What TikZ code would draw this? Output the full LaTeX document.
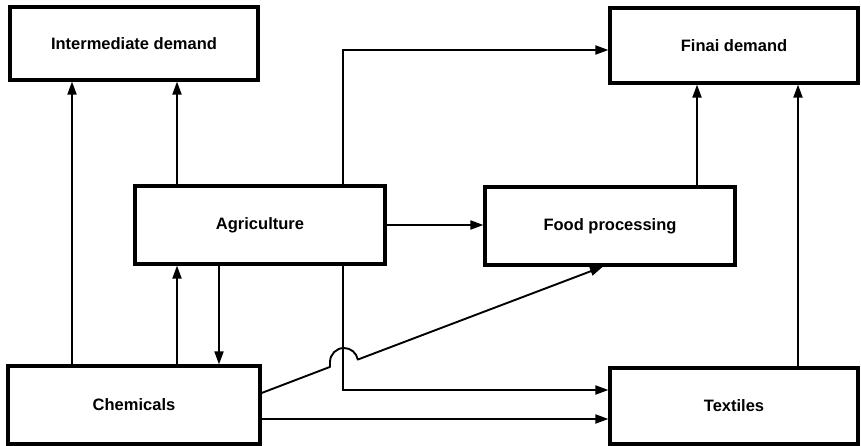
\documentclass[tikz,border=0pt]{standalone}
\usepackage{fontspec}
\setmainfont{Liberation Sans}
\usetikzlibrary{arrows.meta}
\begin{document}
\begin{tikzpicture}[x=1pt,y=-1pt,
  sector/.style={draw, line width=3.2pt, minimum width=248pt, minimum height=76pt,
    inner sep=0pt, font=\fontsize{16.5}{19}\selectfont\bfseries},
  flow/.style={line width=1.9pt, -{Triangle[length=13pt,width=9pt]}}]
\useasboundingbox (0,0) rectangle (861,446);

% sectors
\node[sector, minimum height=73pt] (id)   at (134,43.5) {Intermediate demand};
\node[sector, minimum height=75pt] (fd)   at (734,45.5) {Finai demand};
\node[sector, minimum width=250pt, minimum height=78pt] (agri) at (260,225) {Agriculture};
\node[sector, minimum width=250pt, minimum height=78pt] (fp)   at (610,226) {Food processing};
\node[sector, minimum width=252pt, minimum height=78pt] (chem) at (134,405) {Chemicals};
\node[sector] (tex)  at (734,406) {Textiles};

% guide positions for the connectors
\coordinate (gx72)  at (72,0);
\coordinate (gx177) at (177,0);
\coordinate (gx219) at (219,0);
\coordinate (gx343) at (343,0);
\coordinate (gx603) at (603,0);
\coordinate (gx697) at (697,0);
\coordinate (gx798) at (798,0);
\coordinate (gy50)  at (0,50);
\coordinate (gy390) at (0,390);
\coordinate (gy393) at (0,393);
\coordinate (gy419) at (0,419);
\coordinate (hopfoot) at (330,366.9);
\coordinate (hopside) at (330,362);

% flows
\draw[flow] (chem.north -| gx72) -- (id.south -| gx72);
\draw[flow] (agri.north -| gx177) -- (id.south -| gx177);
\draw[flow] (chem.north -| gx177) -- (agri.south -| gx177);
\draw[flow] (agri.south -| gx219) -- (chem.north -| gx219);
\draw[flow] (agri.north -| gx343) |- (fd.west |- gy50);
\draw[flow] (agri.east) -- (fp.west |- agri.east);
\draw[flow] (fp.north -| gx697) -- (fd.south -| gx697);
\draw[flow] (tex.north -| gx798) -- (fd.south -| gx798);
\draw[flow] (agri.south -| gx343) |- (tex.west |- gy390);
\draw[flow] (chem.east |- gy419) -- (tex.west |- gy419);
% chemicals to food processing, hopping over the agriculture line
\draw[flow, line join=round] (chem.east |- gy393) -- (hopfoot) -- (hopside)
  arc[start angle=180, end angle=350, radius=14] -- (fp.south -| gx603);
\end{tikzpicture}
\end{document}
